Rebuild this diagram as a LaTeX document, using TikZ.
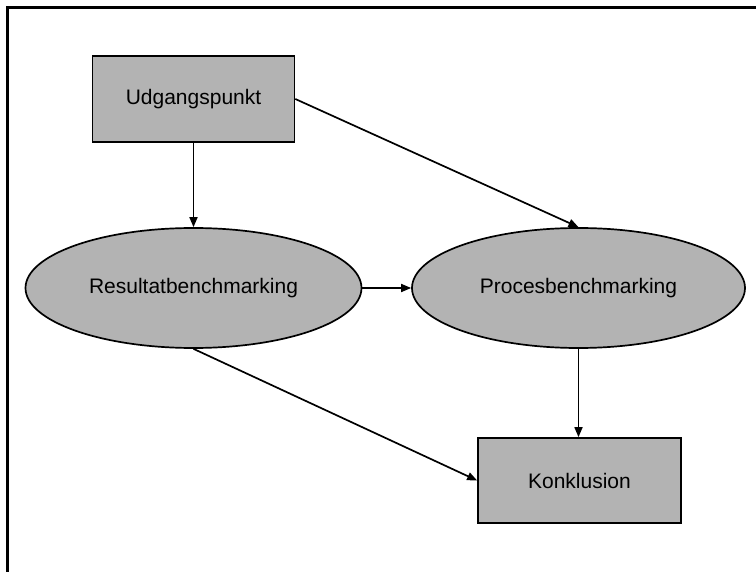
\documentclass[tikz,border=0pt]{standalone}
\usepackage{fontspec}
\setmainfont{Liberation Sans}
\usetikzlibrary{arrows.meta,shapes.geometric}
\definecolor{boxgray}{RGB}{179,179,179}
\tikzset{
  block/.style={draw=black, fill=boxgray, line width=1.7pt, inner sep=0pt,
    minimum width=202pt, minimum height=86pt, font=\fontsize{21}{24}\selectfont},
  oval/.style={ellipse, draw=black, fill=boxgray, line width=1.7pt, inner sep=0pt,
    minimum width=336pt, minimum height=120pt, font=\fontsize{21}{24}\selectfont},
  link/.style={line width=1.7pt, -{Triangle[length=10pt,width=8pt]}},
  frame/.style={line width=3.6pt}
}
\begin{document}
\begin{tikzpicture}[x=1pt,y=-1pt]
  \useasboundingbox (0,0) rectangle (756,572);
  \clip (0,0) rectangle (756,572);
  % outer frame, running off the right and bottom edges
  \draw[frame] (7.5,7.5) rectangle (800,620);

  \node[block] (udg) at (193.5,99) {Udgangspunkt};
  \node[oval]  (res) at (193.5,288) {Resultatbenchmarking};
  \node[oval, minimum width=333pt] (pro) at (578.5,288) {Procesbenchmarking};
  \node[block, minimum width=203pt, minimum height=85pt] (kon) at (579.5,480.5) {Konklusion};

  \draw[link] (udg.south) -- (res.north);
  \draw[link] (udg.east) -- (pro.north);
  \draw[link] (res.east) -- (pro.west);
  \draw[link] (res.south) -- (kon.west);
  \draw[link] (pro.south) -- (pro.south |- kon.north);
\end{tikzpicture}
\end{document}
